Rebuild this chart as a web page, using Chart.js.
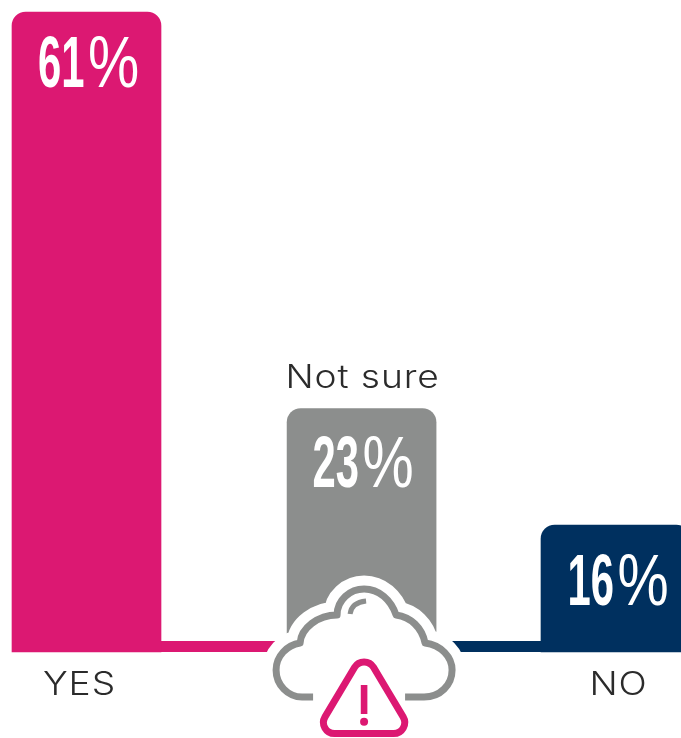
<!DOCTYPE html>
<html>
<head>
<meta charset="utf-8">
<style>
  html, body { margin: 0; padding: 0; background: #fff; }
  #wrap { width: 681px; height: 738px; overflow: hidden; }
</style>
<script src="https://cdn.jsdelivr.net/npm/chart.js@4"></script>
</head>
<body>
<div id="wrap"><canvas id="chart" width="681" height="738"></canvas></div>
<script>
// The bars are unevenly spaced, so blank categories hold the gaps
const categories = ['YES', ...Array(12).fill(''), 'Not sure', ...Array(11).fill(''), 'NO'];
const answers = ['YES', 'Not sure', 'NO'];
const shownPercents = [61, 23, 16];
// height of each bar as drawn in the picture (NO is drawn shorter than its label says)
const drawnHeights = [61, 23.2, 12.1];
const barColours = ['#dc1872', '#8c8e8d', '#00305f'];

const heightFor = {};
answers.forEach(function (a, i) { heightFor[a] = drawnHeights[i]; });

const PINK = barColours[0], GREY = barColours[1], NAVY = barColours[2];
const BAR_W = 149;
// how far below the bar top each percentage sits, and its nudge sideways
const percentDrop = [75, 78, 80];
const percentNudge = [-49.5, -50, -49];

function barOf(chart, answer) {
    const idx = categories.indexOf(answer);
    return chart.getDatasetMeta(0).data[idx];
}

// condensed white percentage inside the bars, heavy digits and a thin % sign
function drawPercent(ctx, value, x, y) {
    ctx.save();
    ctx.fillStyle = '#fff';
    ctx.textAlign = 'left';
    ctx.textBaseline = 'alphabetic';

    ctx.save();
    ctx.translate(x, y);
    ctx.scale(0.58, 1);
    ctx.font = '700 72px "Liberation Sans"';
    ctx.fillText(String(value), 0, 0);
    ctx.restore();

    ctx.save();
    ctx.translate(x + 50, y);
    ctx.scale(0.8, 1);
    ctx.font = '400 72px "Liberation Sans"';
    ctx.fillText('%', 0, 0);
    ctx.restore();

    ctx.restore();
}

// wide light label, stretched a little to the width of the original typeface
function drawLabel(ctx, text, x, y) {
    ctx.save();
    ctx.translate(x, y);
    ctx.scale(1.16, 1);
    ctx.font = '300 32px Inter';
    ctx.letterSpacing = '0.8px';
    ctx.fillStyle = '#2b2b2b';
    ctx.textAlign = 'center';
    ctx.textBaseline = 'alphabetic';
    ctx.fillText(text, 0, 0);
    ctx.restore();
}

function tri(ctx, pts, r) {
    ctx.beginPath();
    ctx.moveTo((pts[0][0] + pts[1][0]) / 2, (pts[0][1] + pts[1][1]) / 2);
    ctx.arcTo(pts[1][0], pts[1][1], pts[2][0], pts[2][1], r);
    ctx.arcTo(pts[2][0], pts[2][1], pts[0][0], pts[0][1], r);
    ctx.arcTo(pts[0][0], pts[0][1], pts[1][0], pts[1][1], r);
    ctx.closePath();
}

const decorPlugin = {
    id: 'decor',
    beforeDatasetsDraw(chart) {
        // thick baseline under the bars, pink on the left and navy on the right
        const ctx = chart.ctx;
        const y0 = chart.scales.y.getPixelForValue(0);
        const yes = barOf(chart, 'YES');
        const mid = barOf(chart, 'Not sure');
        ctx.save();
        ctx.fillStyle = PINK;
        ctx.fillRect(yes.x - BAR_W / 2, y0 - 11, mid.x - yes.x + BAR_W / 2, 11);
        ctx.fillStyle = NAVY;
        ctx.fillRect(mid.x, y0 - 11, chart.width - mid.x, 11);
        ctx.restore();
    },
    afterDatasetsDraw(chart) {
        const ctx = chart.ctx;
        answers.forEach(function (a, i) {
            const bar = barOf(chart, a);
            drawPercent(ctx, shownPercents[i], bar.x + percentNudge[i] + 1, bar.y + percentDrop[i]);
        });

        const mid = barOf(chart, 'Not sure');
        const cx = mid.x + 2.5;
        const oy = chart.scales.y.getPixelForValue(0);

        // category labels
        drawLabel(ctx, 'Not sure', mid.x + 1, mid.y - 21);
        drawLabel(ctx, 'YES', barOf(chart, 'YES').x - 7, oy + 43);
        drawLabel(ctx, 'NO', barOf(chart, 'NO').x + 3, oy + 43);

        // cloud icon with warning triangle, placed relative to the middle bar
        ctx.save();
        ctx.translate(cx, oy);
        const cloud = new Path2D();
        cloud.moveTo(-51, 45);
        cloud.lineTo(-62, 45);
        cloud.bezierCurveTo(-76, 45, -88, 33, -88, 18);
        cloud.bezierCurveTo(-88, 4, -77, -7, -64, -9);
        cloud.bezierCurveTo(-63, -24, -46, -37, -27, -37);
        cloud.bezierCurveTo(-27, -52, -14, -63, 0, -63);
        cloud.bezierCurveTo(15, -63, 27, -52, 32, -37);
        cloud.bezierCurveTo(47, -35, 58, -24, 61, -9);
        cloud.bezierCurveTo(77, -7, 88, 5, 88, 18);
        cloud.bezierCurveTo(88, 33, 76, 45, 60, 45);
        cloud.lineTo(41, 45);
        ctx.lineCap = 'butt';
        ctx.lineJoin = 'round';
        // white halo that cuts into the bar and baseline
        ctx.fillStyle = '#fff';
        ctx.fill(cloud);
        ctx.strokeStyle = '#fff';
        ctx.lineWidth = 27;
        ctx.stroke(cloud);
        ctx.fillRect(-88, 20, 176, 100);
        ctx.strokeStyle = GREY;
        ctx.lineWidth = 7;
        ctx.stroke(cloud);
        ctx.beginPath();
        ctx.moveTo(-14, -38);
        ctx.bezierCurveTo(-13, -46, -8, -50, 2, -51);
        ctx.lineWidth = 5;
        ctx.stroke();

        // warning triangle
        tri(ctx, [[0, -0.5], [49, 81.5], [-49, 81.5]], 11);
        ctx.strokeStyle = PINK;
        ctx.lineWidth = 7;
        ctx.stroke();
        ctx.fillStyle = PINK;
        ctx.fillRect(-3.3, 33, 6.6, 29);
        ctx.beginPath();
        ctx.arc(0, 69.7, 4, 0, Math.PI * 2);
        ctx.fill();
        ctx.restore();
    }
};

new Chart(document.getElementById('chart'), {
    type: 'bar',
    data: {
        labels: categories,
        datasets: [{
            data: categories.map(function (c) { return c in heightFor ? heightFor[c] : null; }),
            backgroundColor: categories.map(function (c) {
                return c ? barColours[answers.indexOf(c)] : 'transparent';
            }),
            barThickness: BAR_W,
            borderRadius: { topLeft: 14, topRight: 14, bottomLeft: 0, bottomRight: 0 },
            borderSkipped: false,
            clip: false
        }]
    },
    options: {
        responsive: false,
        animation: false,
        layout: { padding: { left: 86.5, right: 65.5, top: 12, bottom: 86 } },
        plugins: { legend: { display: false }, tooltip: { enabled: false } },
        scales: {
            x: { display: false, offset: false, grid: { display: false } },
            y: { display: false, min: 0, max: 61, grid: { display: false } }
        }
    },
    plugins: [decorPlugin]
});
</script>
</body>
</html>
